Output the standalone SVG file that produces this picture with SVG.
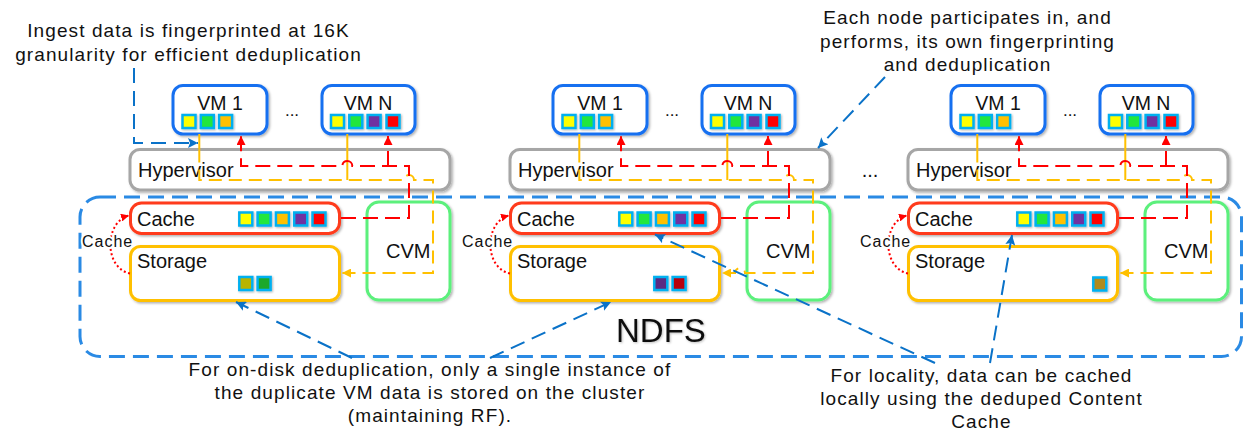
<svg xmlns="http://www.w3.org/2000/svg" width="1248" height="430" viewBox="0 0 1248 430">
  <defs>
    <style>
      text { font-family: "Liberation Sans", Arial, sans-serif; fill: #111; }
      .note { font-size: 19px; letter-spacing: 1.1px; text-anchor: middle; }
      .lbl { font-size: 20px; }
      .vml { font-size: 19.5px; text-anchor: middle; }
      .dots { font-size: 17px; text-anchor: middle; }
      .small { font-size: 16px; letter-spacing: 1px; stroke: #fff; stroke-width: 4px; paint-order: stroke; stroke-linejoin: round; }
      .box { fill: #fff; stroke-width: 3; filter: url(#sh); }
      .vm { stroke: #1870f0; }
      .hyp { stroke: #a6a6a6; }
      .cache { stroke: #ff3a1a; }
      .stor { stroke: #ffc000; }
      .cvm { stroke: #5cf07c; }
      .sq { stroke: #00b0f0; stroke-width: 2.5; filter: url(#sh2); }
      .y { fill: #ffff00; } .g { fill: #22e63c; } .o { fill: #ffc000; } .p { fill: #7030a0; } .r { fill: #ff0000; }
      .yd { fill: #b8b400; } .gd { fill: #1fa82c; } .pd { fill: #5a2a82; } .rd { fill: #b8000c; } .od { fill: #b08a1c; }
      .red { fill: none; stroke: #ff0000; stroke-width: 2; stroke-dasharray: 15 7; }
      .yel { fill: none; stroke: #ffc000; stroke-width: 2; stroke-dasharray: 13 7; }
      .yels { fill: none; stroke: #ffc000; stroke-width: 2; }
      .ann { fill: none; stroke: #0a72c8; stroke-width: 2; stroke-dasharray: 15 8; }
      .loop { fill: none; stroke: #ff0000; stroke-width: 2; stroke-dasharray: 2 2.5; }
      .ndfs { fill: none; stroke: #2a8ae4; stroke-width: 3; stroke-dasharray: 16 8; }
    </style>
    <filter id="sh" x="-10%" y="-10%" width="120%" height="130%">
      <feDropShadow dx="1.5" dy="1.5" stdDeviation="1" flood-color="#000" flood-opacity="0.3"/>
    </filter>
    <filter id="sh2" x="-30%" y="-30%" width="160%" height="160%">
      <feDropShadow dx="1" dy="1" stdDeviation="0.8" flood-color="#000" flood-opacity="0.3"/>
    </filter>
    <filter id="tsh" x="-5%" y="-10%" width="110%" height="130%">
      <feDropShadow dx="1" dy="1" stdDeviation="0.8" flood-color="#000" flood-opacity="0.25"/>
    </filter>
    <marker id="ar" viewBox="0 0 10 10" refX="10" refY="5" markerWidth="9" markerHeight="9" markerUnits="userSpaceOnUse" orient="auto">
      <path d="M0,0 L10,5 L0,10 z" fill="#ff0000"/>
    </marker>
    <marker id="ay" viewBox="0 0 10 10" refX="10" refY="5" markerWidth="9" markerHeight="9" markerUnits="userSpaceOnUse" orient="auto">
      <path d="M0,0 L10,5 L0,10 z" fill="#ffc000"/>
    </marker>
    <marker id="ab" viewBox="0 0 10 10" refX="10" refY="5" markerWidth="11" markerHeight="10" markerUnits="userSpaceOnUse" orient="auto">
      <path d="M0,0 L10,5 L0,10 L2,5 z" fill="#0a72c8"/>
    </marker>
    <marker id="al" viewBox="0 0 10 10" refX="10" refY="5" markerWidth="8" markerHeight="8" markerUnits="userSpaceOnUse" orient="auto">
      <path d="M0,0 L10,5 L0,10 z" fill="#ff0000"/>
    </marker>
  </defs>

  <!-- cluster-wide distributed file system boundary -->
  <g id="ndfs">
    <rect class="ndfs" x="80" y="197" width="1161.5" height="159.5" rx="20"/>
    <text x="616" y="341.5" font-size="33" filter="url(#tsh)">NDFS</text>
  </g>

  <!-- server 1 -->
  <g id="server1">
    <g id="s1-vm1">
      <rect class="box vm" x="173" y="85.5" width="94" height="48.5" rx="10"/>
      <text class="vml" x="220" y="109.5">VM 1</text>
      <rect class="sq y" x="182.5" y="115" width="13" height="13"/>
      <rect class="sq g" x="200.8" y="115" width="13" height="13"/>
      <rect class="sq o" x="219.1" y="115" width="13" height="13"/>
    </g>
    <text class="dots" x="292" y="116">...</text>
    <g id="s1-vmn">
      <rect class="box vm" x="322" y="85.5" width="93" height="48.5" rx="10"/>
      <text class="vml" x="368" y="109.5">VM N</text>
      <rect class="sq y" x="331" y="115" width="13" height="13"/>
      <rect class="sq g" x="349.3" y="115" width="13" height="13"/>
      <rect class="sq p" x="367.6" y="115" width="13" height="13"/>
      <rect class="sq r" x="386.5" y="115" width="13" height="13"/>
    </g>
    <g id="s1-hypervisor">
      <rect class="box hyp" x="130" y="149.5" width="320" height="40.5" rx="10"/>
      <text class="lbl" x="138" y="177.3">Hypervisor</text>
    </g>
    <g id="s1-cache">
      <rect class="box cache" x="130.5" y="203" width="209" height="30.5" rx="11"/>
      <text class="lbl" x="137" y="226">Cache</text>
      <rect class="sq y" x="239.3" y="212.5" width="13" height="13"/>
      <rect class="sq g" x="257.6" y="212.5" width="13" height="13"/>
      <rect class="sq o" x="275.9" y="212.5" width="13" height="13"/>
      <rect class="sq p" x="294.2" y="212.5" width="13" height="13"/>
      <rect class="sq r" x="312.5" y="212.5" width="13" height="13"/>
    </g>
    <g id="s1-storage">
      <rect class="box stor" x="130.5" y="246.5" width="209" height="54" rx="10"/>
      <text class="lbl" x="137" y="268.3">Storage</text>
      <rect class="sq yd" x="239.3" y="277" width="13" height="13"/>
      <rect class="sq gd" x="257.6" y="277" width="13" height="13"/>
    </g>
    <g id="s1-cvm">
      <rect class="box cvm" x="367" y="202" width="83" height="98" rx="12"/>
      <text class="lbl" x="386" y="258.3">CVM</text>
    </g>
  </g>

  <!-- server 2 -->
  <g id="server2" transform="translate(380,0)">
    <g id="s2-vm1">
      <rect class="box vm" x="173" y="85.5" width="94" height="48.5" rx="10"/>
      <text class="vml" x="220" y="109.5">VM 1</text>
      <rect class="sq y" x="182.5" y="115" width="13" height="13"/>
      <rect class="sq g" x="200.8" y="115" width="13" height="13"/>
      <rect class="sq o" x="219.1" y="115" width="13" height="13"/>
    </g>
    <text class="dots" x="292" y="116">...</text>
    <g id="s2-vmn">
      <rect class="box vm" x="322" y="85.5" width="93" height="48.5" rx="10"/>
      <text class="vml" x="368" y="109.5">VM N</text>
      <rect class="sq y" x="331" y="115" width="13" height="13"/>
      <rect class="sq g" x="349.3" y="115" width="13" height="13"/>
      <rect class="sq p" x="367.6" y="115" width="13" height="13"/>
      <rect class="sq r" x="386.5" y="115" width="13" height="13"/>
    </g>
    <g id="s2-hypervisor">
      <rect class="box hyp" x="130" y="149.5" width="320" height="40.5" rx="10"/>
      <text class="lbl" x="138" y="177.3">Hypervisor</text>
    </g>
    <g id="s2-cache">
      <rect class="box cache" x="130.5" y="203" width="209" height="30.5" rx="11"/>
      <text class="lbl" x="137" y="226">Cache</text>
      <rect class="sq y" x="239.3" y="212.5" width="13" height="13"/>
      <rect class="sq g" x="257.6" y="212.5" width="13" height="13"/>
      <rect class="sq o" x="275.9" y="212.5" width="13" height="13"/>
      <rect class="sq p" x="294.2" y="212.5" width="13" height="13"/>
      <rect class="sq r" x="312.5" y="212.5" width="13" height="13"/>
    </g>
    <g id="s2-storage">
      <rect class="box stor" x="130.5" y="246.5" width="209" height="54" rx="10"/>
      <text class="lbl" x="137" y="268.3">Storage</text>
      <rect class="sq pd" x="274.3" y="277" width="13" height="13"/>
      <rect class="sq rd" x="292.6" y="277" width="13" height="13"/>
    </g>
    <g id="s2-cvm">
      <rect class="box cvm" x="367" y="202" width="83" height="98" rx="12"/>
      <text class="lbl" x="386" y="258.3">CVM</text>
    </g>
  </g>

  <text x="870" y="177" font-size="20" text-anchor="middle">...</text>

  <!-- server 3 -->
  <g id="server3" transform="translate(778,0)">
    <g id="s3-vm1">
      <rect class="box vm" x="173" y="85.5" width="94" height="48.5" rx="10"/>
      <text class="vml" x="220" y="109.5">VM 1</text>
      <rect class="sq y" x="182.5" y="115" width="13" height="13"/>
      <rect class="sq g" x="200.8" y="115" width="13" height="13"/>
      <rect class="sq o" x="219.1" y="115" width="13" height="13"/>
    </g>
    <text class="dots" x="292" y="116">...</text>
    <g id="s3-vmn">
      <rect class="box vm" x="322" y="85.5" width="93" height="48.5" rx="10"/>
      <text class="vml" x="368" y="109.5">VM N</text>
      <rect class="sq y" x="331" y="115" width="13" height="13"/>
      <rect class="sq g" x="349.3" y="115" width="13" height="13"/>
      <rect class="sq p" x="367.6" y="115" width="13" height="13"/>
      <rect class="sq r" x="386.5" y="115" width="13" height="13"/>
    </g>
    <g id="s3-hypervisor">
      <rect class="box hyp" x="130" y="149.5" width="320" height="40.5" rx="10"/>
      <text class="lbl" x="138" y="177.3">Hypervisor</text>
    </g>
    <g id="s3-cache">
      <rect class="box cache" x="130.5" y="203" width="209" height="30.5" rx="11"/>
      <text class="lbl" x="137" y="226">Cache</text>
      <rect class="sq y" x="239.3" y="212.5" width="13" height="13"/>
      <rect class="sq g" x="257.6" y="212.5" width="13" height="13"/>
      <rect class="sq o" x="275.9" y="212.5" width="13" height="13"/>
      <rect class="sq p" x="294.2" y="212.5" width="13" height="13"/>
      <rect class="sq r" x="312.5" y="212.5" width="13" height="13"/>
    </g>
    <g id="s3-storage">
      <rect class="box stor" x="130.5" y="246.5" width="209" height="54" rx="10"/>
      <text class="lbl" x="137" y="268.3">Storage</text>
      <rect class="sq od" x="315.3" y="277.5" width="13" height="13"/>
    </g>
    <g id="s3-cvm">
      <rect class="box cvm" x="367" y="202" width="83" height="98" rx="12"/>
      <text class="lbl" x="386" y="258.3">CVM</text>
    </g>
  </g>

  <!-- data paths: writes go VM -> CVM -> Storage, reads come Cache -> VM -->
  <g id="connectors">
    <g transform="translate(0,0)">
      <path class="yels" d="M199.3,134 V149.5 M347.3,134 V180"/>
      <path class="yel" d="M199.3,149.5 V180 H404 A5,5 0 0 1 414,180 H433 V273 H342" marker-end="url(#ay)"/>
      <path class="red" d="M341,218 H409 V166 H352.3 A5,5 0 0 0 342.3,166 H241 V136" marker-end="url(#ar)"/>
      <path class="red" d="M388,166 V136" marker-end="url(#ar)"/>
      <path class="loop" d="M130,273.5 C104,268 104,222 129,215.5" marker-end="url(#al)"/>
      <text class="small" x="82" y="247.3">Cache</text>
    </g>
    <g transform="translate(380,0)">
      <path class="yels" d="M199.3,134 V149.5 M347.3,134 V180"/>
      <path class="yel" d="M199.3,149.5 V180 H404 A5,5 0 0 1 414,180 H433 V273 H365 A5,5 0 0 0 355,273 H342" marker-end="url(#ay)"/>
      <path class="red" d="M341,218 H409 V166 H352.3 A5,5 0 0 0 342.3,166 H241 V136" marker-end="url(#ar)"/>
      <path class="red" d="M388,166 V136" marker-end="url(#ar)"/>
      <path class="loop" d="M130,273.5 C104,268 104,222 129,215.5" marker-end="url(#al)"/>
      <text class="small" x="82" y="247.3">Cache</text>
    </g>
    <g transform="translate(778,0)">
      <path class="yels" d="M199.3,134 V149.5 M347.3,134 V180"/>
      <path class="yel" d="M199.3,149.5 V180 H404 A5,5 0 0 1 414,180 H433 V273 H342" marker-end="url(#ay)"/>
      <path class="red" d="M341,218 H409 V166 H352.3 A5,5 0 0 0 342.3,166 H241 V136" marker-end="url(#ar)"/>
      <path class="red" d="M388,166 V136" marker-end="url(#ar)"/>
      <path class="loop" d="M130,273.5 C104,268 104,222 129,215.5" marker-end="url(#al)"/>
      <text class="small" x="82" y="247.3">Cache</text>
    </g>

    <!-- callout leaders -->
    <path class="ann" d="M134,68 V143 H198" marker-end="url(#ab)"/>
    <path class="ann" d="M885,77 L818,148" marker-end="url(#ab)"/>
    <path class="ann" d="M352,358 L236,302" marker-end="url(#ab)"/>
    <path class="ann" d="M490,358 L611,302" marker-end="url(#ab)"/>
    <path class="ann" d="M935,363 L655,234.5" marker-end="url(#ab)"/>
    <path class="ann" d="M990,363 L1012,235" marker-end="url(#ab)"/>
  </g>

  <!-- callout texts -->
  <g id="notes">
    <text class="note" x="188.5" y="37.3">Ingest data is fingerprinted at 16K</text>
    <text class="note" x="188.5" y="60.7">granularity for efficient deduplication</text>
    <text class="note" x="967.5" y="24.3">Each node participates in, and</text>
    <text class="note" x="967.5" y="47.5">performs, its own fingerprinting</text>
    <text class="note" x="967.5" y="70.7">and deduplication</text>
    <text class="note" x="430" y="376">For on-disk deduplication, only a single instance of</text>
    <text class="note" x="430" y="399">the duplicate VM data is stored on the cluster</text>
    <text class="note" x="430" y="422">(maintaining RF).</text>
    <text class="note" x="981.5" y="382">For locality, data can be cached</text>
    <text class="note" x="981.5" y="405">locally using the deduped Content</text>
    <text class="note" x="981.5" y="428">Cache</text>
  </g>
</svg>
